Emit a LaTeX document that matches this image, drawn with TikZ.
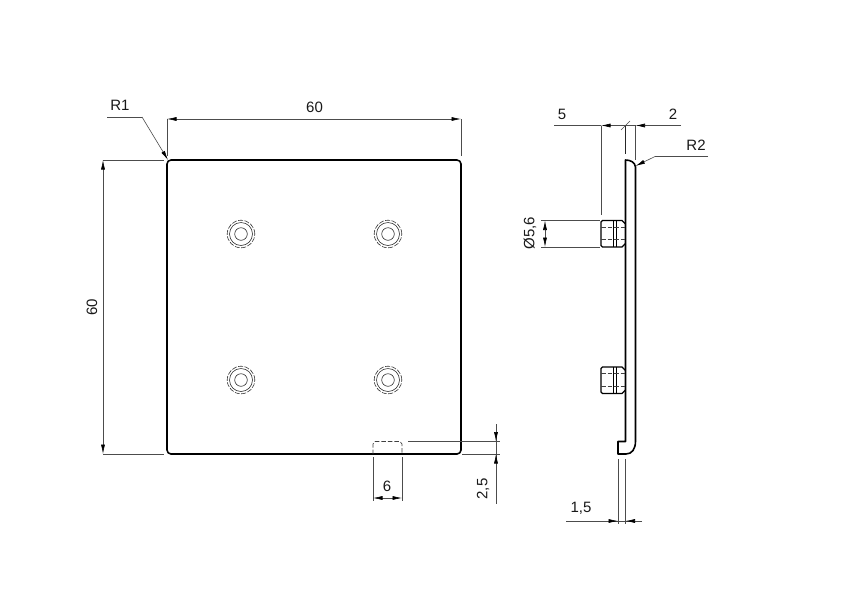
\documentclass[tikz,border=0pt]{standalone}
\usepackage{fontspec}
\setmainfont{Liberation Sans}
\usetikzlibrary{arrows.meta}
\tikzset{
  part/.style={line width=1.6pt,black,line join=round,line cap=round},
  thinpart/.style={line width=1.1pt,black},
  hidden/.style={line width=0.7pt,black!75,dash pattern=on 4.5pt off 2pt},
  holeline/.style={line width=0.6pt,black!80},
  dim/.style={line width=0.6pt,black!70},
  dimarrow/.style={line width=0.6pt,black!70,-{Latex[length=9.5pt,width=4pt,black]}},
  lab/.style={font=\fontsize{15}{17}\selectfont,text=black!90,inner sep=0pt}
}
\begin{document}
\begin{tikzpicture}[x=1pt,y=-1pt]
\useasboundingbox (0,0) rectangle (850,600);
\fill[white] (0,0) rectangle (850,600);

% front view: plate
\draw[part,rounded corners=4pt] (167,160) rectangle (461,454);
% slot
\draw[hidden] (373,454) -- (373,444) -- (375,441.5) -- (400,441.5) -- (402,444) -- (402,454);

% holes
\foreach \cx/\cy/\nm in {241/234/a,388/234/b,241/380/c,388/380/d}{
  \draw[holeline] (\cx,\cy) circle (6.3pt);
  \draw[holeline] (\cx,\cy) circle (11.5pt);
  \draw[holeline,dash pattern=on 5pt off 1.5pt] (\cx,\cy) circle (13.8pt);
}

% side view: plate
\draw[part] (625.5,160) .. controls (630,160) and (635,162) .. (635.5,167)
  -- (635.5,441) .. controls (635.5,449) and (632,454) .. (626,454)
  -- (618,454) -- (618,441.5) -- (625.5,441.5) -- cycle;
% pins
\foreach \t in {220.5,367}{
  \begin{scope}[yshift=-\t pt]
  \draw[part,line width=1.3pt,line join=miter] (625.5,3.5) -- (622,0) -- (602.5,0) -- (601,1.5) -- (601,25) -- (602.5,26.5) -- (622,26.5) -- (625.5,23);
  \draw[thinpart] (613.5,0) -- (613.5,26.5);
  \draw[thinpart] (616.5,0) -- (616.5,26.5);
  \draw[hidden] (601,6.5) -- (625,6.5);
  \draw[hidden] (601,19) -- (625,19);
  \end{scope}
}

% dimension 60 top
\draw[dim] (167,119) -- (167,156);
\draw[dim] (461,119) -- (461,156);
\draw[dimarrow] (314,119) -- (167,119);
\draw[dimarrow] (314,119) -- (461,119);
\node[lab] (t60a) at (314.5,107.5) {60};

% dimension 60 left
\draw[dim] (103,160) -- (164,160);
\draw[dim] (103,454) -- (164,454);
\draw[dimarrow] (103,307) -- (103,160);
\draw[dimarrow] (103,307) -- (103,454);
\node[lab,rotate=90] (t60b) at (92,307) {60};

% R1
\draw[dim] (107,117) -- (142,117);
\draw[dimarrow] (142,117) -- (168,160);
\node[lab] (tr1) at (120,105) {R1};

% 5 / 2 side
\draw[dim] (554,125.5) -- (601,125.5);
\draw[dim] (601,125.5) -- (601,215);
\draw[dim] (635.5,125.5) -- (635.5,160);
\draw[dim,black!85] (625.5,125.5) -- (625.5,154);
\draw[dim] (621,130) -- (630,121);
\draw[dimarrow] (625.5,125.5) -- (601,125.5);
\draw[dim] (625.5,125.5) -- (635.5,125.5);
\draw[dimarrow] (681,125.5) -- (635.5,125.5);
\node[lab] (t5) at (562,114) {5};
\node[lab] (t2) at (673,114) {2};

% R2
\draw[dim] (708,156.5) -- (655,156.5);
\draw[dimarrow] (655,156.5) -- (635.5,166);
\node[lab] (tr2) at (696,145) {R2};

% dia 5,6
\draw[dim] (541,220.5) -- (600,220.5);
\draw[dim] (541,247) -- (600,247);
\draw[dimarrow] (545,233.5) -- (545,220.5);
\draw[dimarrow] (545,233.5) -- (545,247);
\node[lab,rotate=90] (tdia) at (530,233) {Ø5,6};

% 6
\draw[dim] (373,457) -- (373,501);
\draw[dim] (402,457) -- (402,501);
\draw[dimarrow] (387.5,498) -- (373,498);
\draw[dimarrow] (387.5,498) -- (402,498);
\node[lab] (t6) at (387,486) {6};

% 2,5
\draw[dim] (408,441.5) -- (500,441.5);
\draw[dim] (462,454) -- (500,454);
\draw[dim] (496,424) -- (496,504);
\draw[dimarrow] (496,428) -- (496,441.5);
\draw[dimarrow] (496,468) -- (496,454);
\node[lab,rotate=90] (t25) at (483,489) {2,5};

% 1,5
\draw[dim] (618,459) -- (618,524);
\draw[dim] (625.5,459) -- (625.5,524);
\draw[dim] (566,521) -- (642,521);
\draw[dimarrow] (600,521) -- (618,521);
\draw[dimarrow] (642,521) -- (625.5,521);
\node[lab] (t15) at (581,508) {1,5};
\end{tikzpicture}
\end{document}
